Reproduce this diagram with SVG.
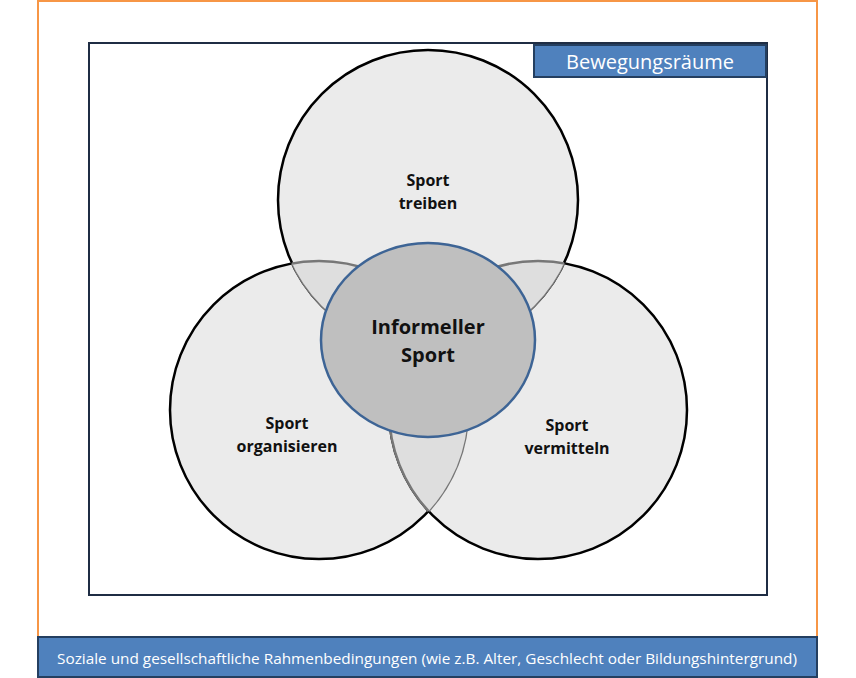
<svg xmlns="http://www.w3.org/2000/svg" width="856" height="678" viewBox="0 0 856 678">
<style>
text{font-family:"Open Sans","Liberation Sans",sans-serif;text-anchor:middle}
.lbl{font-size:16px;font-weight:bold;fill:#111}
.c{fill:#ebebeb;stroke:#000;stroke-width:2.5}
.ov{fill:#dedede;stroke:#777;stroke-width:2.5}
.bar{fill:#4f81bd;stroke:#243f60;stroke-width:2}
</style>
<defs>
<clipPath id="cT"><circle cx="428" cy="200" r="150"/></clipPath>
<clipPath id="cL"><circle cx="319" cy="410" r="149"/></clipPath>
<clipPath id="cR"><circle cx="538" cy="410" r="149"/></clipPath>
</defs>
<rect x="38" y="1" width="779" height="660" fill="#fff" stroke="#f79646" stroke-width="2"/>
<rect x="89" y="43" width="678" height="552" fill="#fff" stroke="#1f2d44" stroke-width="2"/>
<g id="sport-organisieren"><circle class="c" cx="319" cy="410" r="149"/><text class="lbl" x="287" y="429">Sport</text><text class="lbl" x="287" y="452">organisieren</text></g>
<g id="sport-vermitteln"><circle class="c" cx="538" cy="410" r="149"/><text class="lbl" x="567" y="431">Sport</text><text class="lbl" x="567" y="454">vermitteln</text></g>
<g id="sport-treiben"><circle class="c" cx="428" cy="200" r="150"/><text class="lbl" x="428" y="186">Sport</text><text class="lbl" x="428" y="209">treiben</text></g>
<g id="overlaps">
<circle class="ov" cx="428" cy="200" r="150" clip-path="url(#cL)"/>
<circle class="ov" cx="428" cy="200" r="150" clip-path="url(#cR)"/>
<circle class="ov" cx="319" cy="410" r="149" clip-path="url(#cR)"/>
<circle class="ov" cx="319" cy="410" r="149" clip-path="url(#cT)" fill="none"/>
<circle class="ov" cx="538" cy="410" r="149" clip-path="url(#cT)" fill="none"/>
<circle class="ov" cx="538" cy="410" r="149" clip-path="url(#cL)" fill="none"/>
</g>
<g id="informeller-sport"><ellipse cx="428" cy="340" rx="107" ry="97" fill="#bfbfbf" stroke="#3d6495" stroke-width="2.5"/><text x="428" y="334" style="font-size:20px;font-weight:bold;fill:#111">Informeller</text><text x="428" y="362" style="font-size:20px;font-weight:bold;fill:#111">Sport</text></g>
<g id="bewegungsraeume"><rect class="bar" x="534" y="45" width="232" height="32"/><text x="650" y="69" style="font-size:20px;fill:#fff">Bewegungsräume</text></g>
<g id="rahmenbedingungen"><rect class="bar" x="38" y="637" width="779" height="40"/><text x="427" y="664" textLength="740" lengthAdjust="spacingAndGlyphs" style="font-size:15px;fill:#fff">Soziale und gesellschaftliche Rahmenbedingungen (wie z.B. Alter, Geschlecht oder Bildungshintergrund)</text></g>
</svg>
